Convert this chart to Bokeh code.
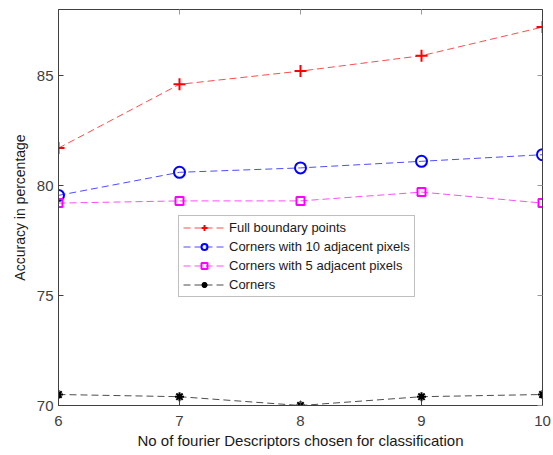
from bokeh.plotting import figure
from bokeh.models import LinearAxis, Range1d, FixedTicker
from bokeh.embed import file_html
from bokeh.resources import INLINE

x = [6, 7, 8, 9, 10]
full_boundary = [81.7, 84.6, 85.2, 85.9, 87.2]
corners10 = [79.55, 80.6, 80.8, 81.1, 81.4]
corners5 = [79.2, 79.3, 79.3, 79.7, 79.2]
corners = [70.5, 70.4, 70.0, 70.4, 70.5]
xticks = [6, 7, 8, 9, 10]
yticks = [70, 75, 80, 85]

FONT = "Liberation Sans"
AX = "#404040"

p = figure(width=553, height=455, output_backend="svg", toolbar_location=None,
           x_range=Range1d(6, 10), y_range=Range1d(70, 88),
           min_border_left=58, min_border_right=11, min_border_top=9, min_border_bottom=50)
p.grid.visible = False
p.outline_line_color = AX
p.background_fill_color = "white"
p.border_fill_color = "white"

series = [
    (full_boundary, "#ff0000", "cross", 12, "Full boundary points"),
    (corners10, "#0000ff", "circle", 11, "Corners with 10 adjacent pixels"),
    (corners5, "#ff00ff", "square", 8, "Corners with 5 adjacent pixels"),
    (corners, "#000000", "asterisk", 9, "Corners"),
]
for ys, col, mk, sz, lab in series:
    p.line(x, ys, line_color=col, line_dash="7 4", line_width=1, line_alpha=0.7, legend_label=lab)
    if mk in ("circle", "square"):
        p.scatter(x, ys, marker=mk, size=sz, line_color=col, fill_color=None, line_width=2, legend_label=lab)
    else:
        p.scatter(x, ys, marker=mk, size=sz, line_color=col, fill_color=col, line_width=2, legend_label=lab)

for ax in (p.xaxis[0], p.yaxis[0]):
    ax.major_tick_in = 5
    ax.major_tick_out = 0
    ax.minor_tick_line_color = None
    ax.axis_line_color = AX
    ax.major_tick_line_color = AX
    ax.major_label_text_font = FONT
    ax.major_label_text_font_size = "15px"
    ax.major_label_text_color = AX
    ax.axis_label_text_font = FONT
    ax.axis_label_text_font_style = "normal"
    ax.axis_label_text_color = "#1a1a1a"

p.xaxis[0].ticker = FixedTicker(ticks=xticks)
p.yaxis[0].ticker = FixedTicker(ticks=yticks)
p.xaxis[0].axis_label = "No of fourier Descriptors chosen for classification"
p.yaxis[0].axis_label = "Accuracy in percentage"
p.xaxis[0].axis_label_text_font_size = "15px"
p.yaxis[0].axis_label_text_font_size = "14px"
p.xaxis[0].major_label_standoff = 10
p.xaxis[0].axis_label_standoff = 3
p.yaxis[0].major_label_standoff = 5
p.yaxis[0].axis_label_standoff = 6

top = LinearAxis(ticker=FixedTicker(ticks=xticks), major_label_text_font_size="1px",
                 major_label_text_color=None,
                 major_tick_in=5, major_tick_out=0, minor_tick_line_color=None,
                 axis_line_color=AX, major_tick_line_color="#999999", major_label_standoff=0)
right = LinearAxis(ticker=FixedTicker(ticks=yticks), major_label_text_font_size="1px",
                   major_label_text_color=None,
                   major_tick_in=5, major_tick_out=0, minor_tick_line_color=None,
                   axis_line_color=AX, major_tick_line_color="#999999", major_label_standoff=0)
p.add_layout(top, "above")
p.add_layout(right, "right")

lg = p.legend[0]
lg.location = (120, 108)
lg.label_text_font = FONT
lg.label_text_font_size = "13px"
lg.label_text_color = "#1a1a1a"
lg.border_line_color = "#808080"
lg.border_line_width = 1
lg.background_fill_alpha = 1
lg.glyph_width = 42
lg.glyph_height = 15
lg.label_height = 15
lg.spacing = 4
lg.padding = 4
lg.margin = 0
lg.label_standoff = 4

open("out.html", "w").write(file_html(p, INLINE))
